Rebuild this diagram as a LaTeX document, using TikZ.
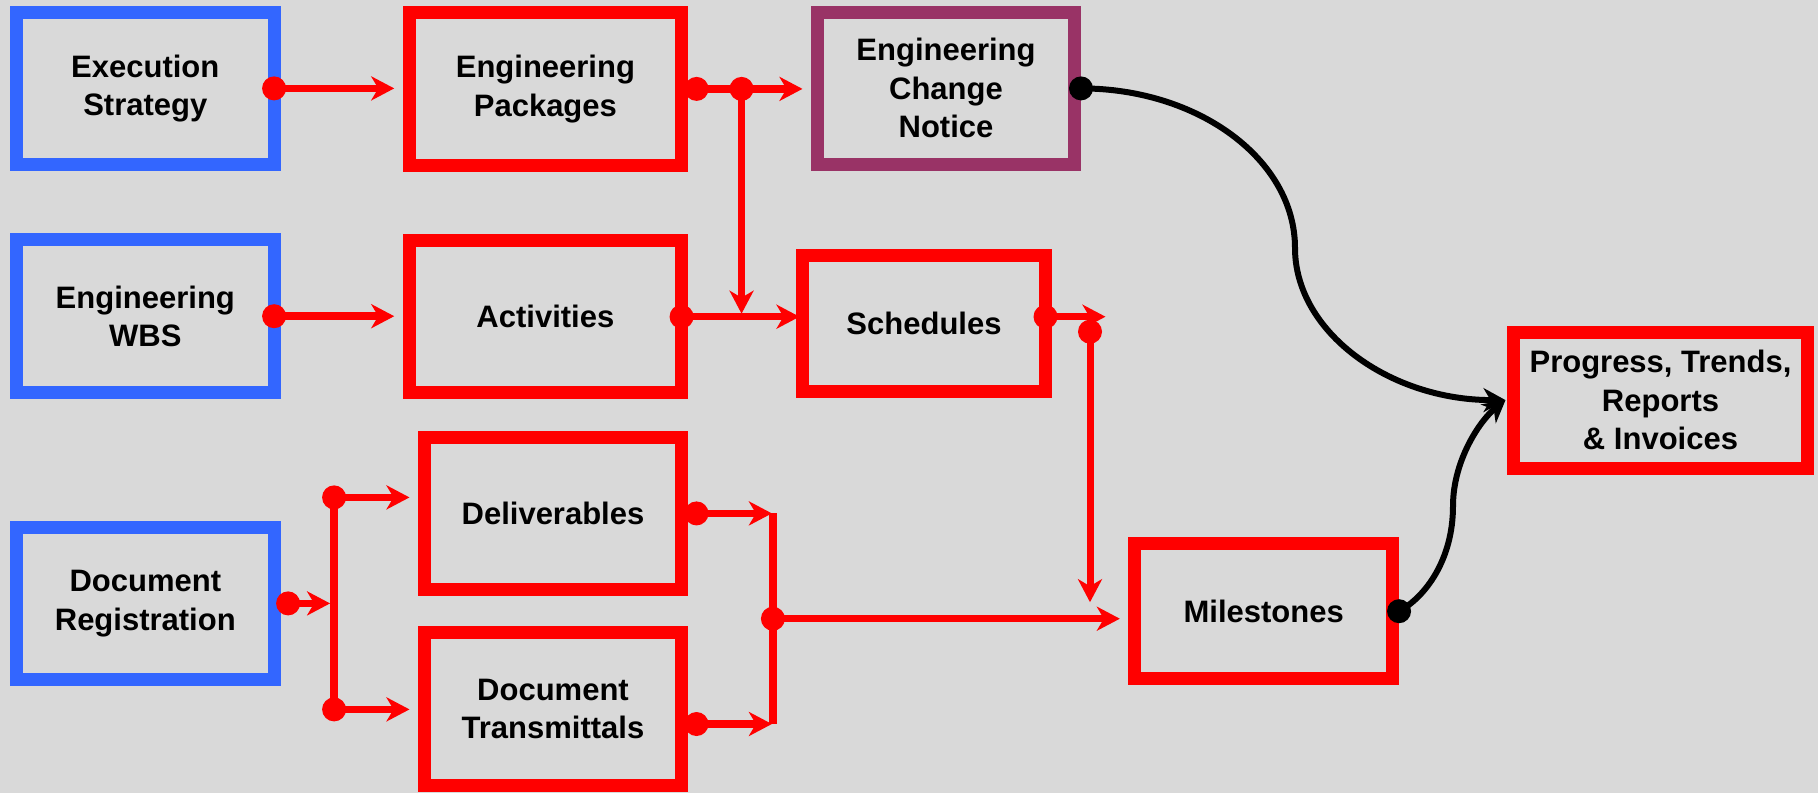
\documentclass[tikz,border=0pt]{standalone}
\usepackage{fontspec}
\setmainfont{Liberation Sans}
\usetikzlibrary{arrows.meta,calc}
\definecolor{bgc}{RGB}{217,217,217}
\definecolor{bluc}{RGB}{51,102,255}
\definecolor{redc}{RGB}{255,0,0}
\definecolor{purc}{RGB}{153,51,102}
\begin{document}
\begin{tikzpicture}[x=1pt,y=-1pt,
  box/.style={draw, line width=13pt, inner sep=0pt, outer sep=0pt, align=center,
    font=\fontsize{31}{38.5}\selectfont\bfseries},
  bbox/.style={box, draw=bluc},
  rbox/.style={box, draw=redc},
  pbox/.style={box, draw=purc},
  rtip/.style={-{Stealth[length=23pt,width=24pt,inset=7pt]}},
  conn/.style={draw=redc, line width=7.5pt, rtip},
  vconn/.style={draw=redc, line width=7pt, rtip},
  plainline/.style={draw=redc, line width=7.5pt},
  curveconn/.style={draw=black, line width=6pt, -{Stealth[length=22pt,width=24pt,inset=7pt]}}
]
\fill[bgc] (0,0) rectangle (1818,793);
\useasboundingbox (0,0) rectangle (1818,793);

% boxes
\node[bbox, minimum width=257.6pt, minimum height=151.7pt] (exec) at (145.3,88.4) {Execution\\Strategy};
\node[rbox, minimum width=272.3pt, minimum height=152.7pt] (pkg) at (545.4,88.9) {Engineering\\Packages};
\node[pbox, minimum width=257pt, minimum height=151.7pt] (ecn) at (946,88.4) {Engineering\\Change\\Notice};
\node[bbox, minimum width=257.6pt, minimum height=152.7pt] (wbs) at (145.3,316.2) {Engineering\\WBS};
\node[rbox, minimum width=272.3pt, minimum height=151.7pt] (act) at (545.4,316.7) {Activities};
\node[rbox, minimum width=243pt, minimum height=136pt] (sched) at (924,323.8) {Schedules};
\node[bbox, minimum width=257.6pt, minimum height=152.3pt] (docreg) at (145.3,603.4) {Document\\Registration};
\node[rbox, minimum width=257pt, minimum height=151.7pt] (deliv) at (553,513.4) {Deliverables};
\node[rbox, minimum width=257pt, minimum height=152.4pt] (trans) at (553,709) {Document\\Transmittals};
\node[rbox, minimum width=257.7pt, minimum height=135.4pt] (miles) at (1263.7,611.2) {Milestones};
\node[rbox, minimum width=294pt, minimum height=135.8pt] (prog) at (1660.5,400.1) {Progress, Trends,\\Reports\\\& Invoices};

% dot / junction coordinates
\coordinate (dexec) at (exec.east);
\coordinate (dpkg) at ($(pkg.east)+(15,0)$);
\coordinate (jpkg) at ($(pkg.east)+(60,0)$);
\coordinate (dwbs) at (wbs.east);
\coordinate (dact) at (act.east);
\coordinate (dsched) at (act.east -| sched.east);
\coordinate (schedend) at ($(dsched)+(60,0)$);
\coordinate (jsched) at ($(sched.east)+(44.5,7.9)$);
\coordinate (jschedend) at ($(jsched |- miles.west)+(0,-9)$);
\coordinate (ddoc) at ($(docreg.east)+(14,0)$);
\coordinate (jdoc) at ($(ddoc)+(46,0)$);
\coordinate (jdoctop) at ($(jdoc)+(0,-106)$);
\coordinate (jdocbot) at ($(jdoc)+(0,106)$);
\coordinate (ddeliv) at ($(deliv.east)+(15,0)$);
\coordinate (dtrans) at ($(trans.east)+(15,15)$);
\coordinate (jmtop) at ($(ddeliv)+(76.4,0)$);
\coordinate (jmbot) at ($(dtrans)+(76.4,0)$);
\coordinate (jm) at ($(jmtop)!0.5!(jmbot)$);
\coordinate (decn) at ($(ecn.east)+(6.5,0)$);
\coordinate (dmiles) at ($(miles.east)+(6.5,0)$);
\coordinate (cmid1) at (1295,248);
\coordinate (cmid2) at (1453,506);
\coordinate (progin) at ($(prog.west)+(-8,0)$);

% red connectors
\draw[conn, shorten >=15pt] (dexec) -- (exec.east -| pkg.west);
\draw[conn, shorten >=15pt] (dpkg) -- (pkg.east -| ecn.west);
\draw[vconn, shorten >=3pt] (jpkg) -- (jpkg |- act.east);
\draw[conn, shorten >=15pt] (dwbs) -- (wbs.east -| act.west);
\draw[conn, shorten >=3pt] (dact) -- (act.east -| sched.west);
\draw[conn] (dsched) -- (schedend);
\draw[vconn] (jsched) -- (jschedend);
\draw[conn, shorten >=4pt] (ddoc) -- (jdoc);
\draw[plainline] (jdoctop) -- (jdocbot);
\draw[conn, shorten >=15pt] (jdoctop) -- (jdoctop -| deliv.west);
\draw[conn, shorten >=15pt] (jdocbot) -- (jdocbot -| trans.west);
\draw[conn, shorten >=1pt] (ddeliv) -- (jmtop);
\draw[conn, shorten >=1pt] (dtrans) -- (jmbot);
\draw[plainline] (jmtop) -- (jmbot);
\draw[conn, shorten >=15pt] (jm) -- (jm -| miles.west);

% black curves
\draw[curveconn] (decn) .. controls +(118,0) and +(0,-88) .. (cmid1)
  .. controls +(0,84) and +(-116,0) .. (progin);
\draw[curveconn] (dmiles) .. controls +(26,-14) and +(0,54) .. (cmid2)
  .. controls +(0,-46) and +(-25,20) .. (progin);

% dots
\foreach \p in {dexec,dpkg,jpkg,dwbs,dact,dsched,jsched,ddoc,jdoctop,jdocbot,ddeliv,dtrans,jm}
  \fill[redc] (\p) circle (12pt);
\fill[black] (decn) circle (12pt);
\fill[black] (dmiles) circle (12pt);
\end{tikzpicture}
\end{document}
